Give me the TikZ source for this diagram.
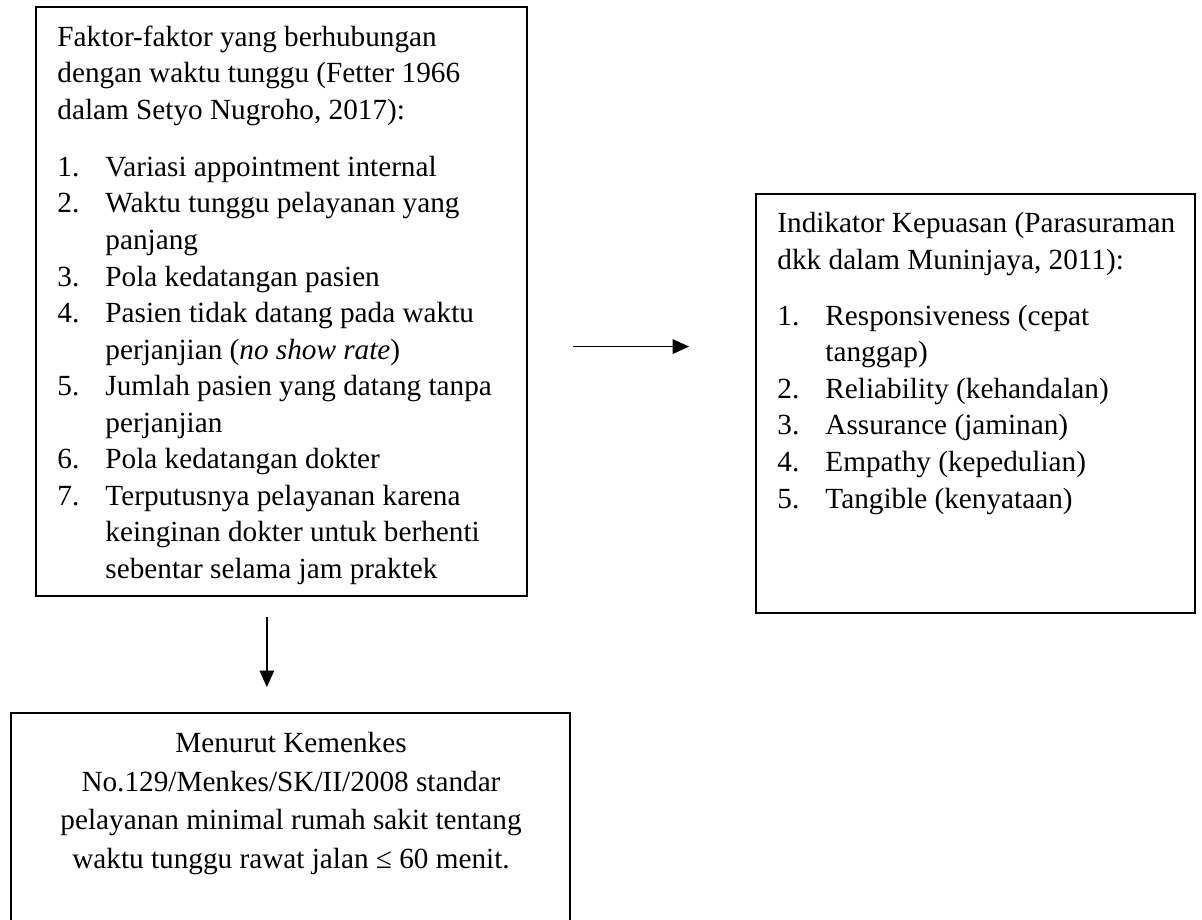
\documentclass[tikz,border=0pt]{standalone}
\usepackage{fontspec}
\setmainfont{Liberation Serif}
\usetikzlibrary{arrows.meta,calc,positioning}
\newlength{\pxu}
\setlength{\pxu}{0.4105pt}
\newcommand{\nomor}[1]{\makebox[19.7pt][l]{#1}}
\newcommand{\lanjut}{\hspace*{19.7pt}}

\begin{document}
\begin{tikzpicture}[x=0.4105pt,y=-0.4105pt,>=Triangle,
    kotak/.style={draw,line width=0.7pt,inner sep=0pt},
    teks/.style={inner sep=0pt,align=left,anchor=north west,
      font=\fontsize{12pt}{15pt}\selectfont},
    panah/.style={-{Triangle[length=6.8pt,width=6pt]},line width=0.6pt}]
  \useasboundingbox (0,0) rectangle (1202,919);
  \clip (0,0) rectangle (1202,919);
  % kotak
  \node[kotak,minimum width=491\pxu,minimum height=589\pxu] (faktor) at (281.5,301.5) {};
  \node[kotak,minimum width=439\pxu,minimum height=419\pxu] (indikator) at (975.5,403.5) {};
  \node[kotak,minimum width=559\pxu,minimum height=227\pxu] (kemenkes) at (290.5,826.5) {};
  % isi
  \node[teks] (faktortxt) at (57,25) {Faktor-faktor yang berhubungan\\
    dengan waktu tunggu (Fetter 1966\\
    dalam Setyo Nugroho, 2017):\\[8.5pt]
    \nomor{1.}Variasi appointment internal\\
    \nomor{2.}Waktu tunggu pelayanan yang\\
    \lanjut panjang\\
    \nomor{3.}Pola kedatangan pasien\\
    \nomor{4.}Pasien tidak datang pada waktu\\
    \lanjut perjanjian (\textit{no show rate})\\
    \nomor{5.}Jumlah pasien yang datang tanpa\\
    \lanjut perjanjian\\
    \nomor{6.}Pola kedatangan dokter\\
    \nomor{7.}Terputusnya pelayanan karena\\
    \lanjut keinginan dokter untuk berhenti\\
    \lanjut sebentar selama jam praktek};
  \node[teks] (indikatortxt) at (777,212) {Indikator Kepuasan (Parasuraman\\
    dkk dalam Muninjaya, 2011):\\[8pt]
    \nomor{1.}Responsiveness (cepat\\
    \lanjut tanggap)\\
    \nomor{2.}Reliability (kehandalan)\\
    \nomor{3.}Assurance (jaminan)\\
    \nomor{4.}Empathy (kepedulian)\\
    \nomor{5.}Tangible (kenyataan)};
  \node[teks,align=center,anchor=north,font=\fontsize{12pt}{15.8pt}\selectfont]
    (kemenkestxt) at (291,732) {Menurut Kemenkes\\
    No.129/Menkes/SK/II/2008 standar\\
    pelayanan minimal rumah sakit tentang\\
    waktu tunggu rawat jalan ≤ 60 menit.};
  % panah
  \draw[panah,shorten <=18.5pt,shorten >=27.1pt]
    ([yshift=-18.5pt]faktor.east) -- ([yshift=-18.5pt]faktor.east -| indikator.west);
  \draw[panah,shorten <=8.2pt,shorten >=10.3pt]
    ([xshift=-6pt]faktor.south) -- ([xshift=-6pt]faktor.south |- kemenkes.north);
\end{tikzpicture}
\end{document}
